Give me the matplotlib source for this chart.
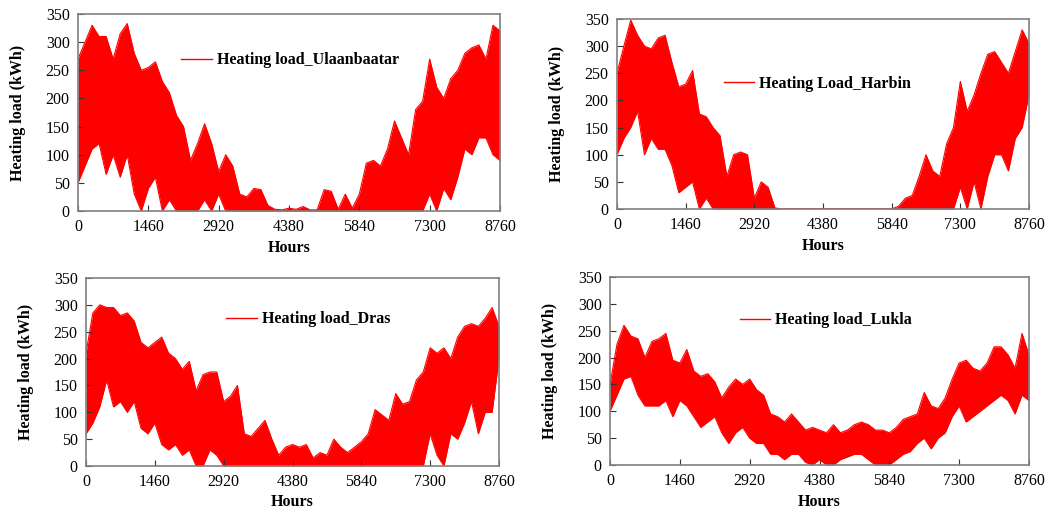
import numpy as np
import matplotlib
matplotlib.use("Agg")
from matplotlib import pyplot as plt
from matplotlib.lines import Line2D

plt.rcParams['font.family'] = ['Liberation Serif', 'DejaVu Serif']

# sample hours (every 146 h) and the upper / lower envelope of the hourly load
hours = np.arange(0, 8761, 146)

ulaan_up = [270, 300, 330, 310, 310, 270, 315, 333, 280, 250, 255, 265, 230, 210, 170, 150, 90, 120, 155, 120,
            70, 100, 80, 30, 25, 40, 38, 10, 3, 2, 5, 3, 8, 2, 2, 38, 35, 3, 30, 5,
            30, 85, 90, 80, 110, 160, 130, 100, 180, 195, 270, 220, 200, 235, 250, 280, 290, 295, 270, 330, 320]
ulaan_low = [50, 80, 110, 120, 65, 100, 60, 100, 30, 0, 40, 60, 0, 20, 0, 0, 0, 0, 20, 0,
             30, 0, 0, 0, 0, 0, 0, 0, 0, 0, 0, 0, 0, 0, 0, 0, 0, 0, 0, 0,
             0, 0, 0, 0, 0, 0, 0, 0, 0, 0, 30, 0, 40, 20, 60, 110, 100, 130, 130, 100, 90]

harbin_up = [250, 300, 348, 320, 300, 295, 315, 320, 270, 225, 230, 255, 175, 170, 150, 135, 60, 100, 105, 100,
             20, 50, 40, 2, 0, 0, 0, 0, 0, 0, 0, 0, 0, 0, 0, 0, 0, 0, 0, 0,
             0, 5, 20, 25, 60, 100, 70, 60, 120, 150, 235, 180, 210, 250, 285, 290, 270, 250, 290, 330, 305]
harbin_low = [100, 130, 150, 180, 100, 130, 110, 110, 80, 30, 40, 50, 0, 20, 0, 0, 0, 0, 0, 0,
              0, 0, 0, 0, 0, 0, 0, 0, 0, 0, 0, 0, 0, 0, 0, 0, 0, 0, 0, 0,
              0, 0, 0, 0, 0, 0, 0, 0, 0, 0, 40, 0, 50, 0, 60, 100, 100, 70, 130, 150, 210]

dras_up = [210, 285, 300, 295, 295, 280, 285, 270, 230, 220, 230, 240, 210, 200, 180, 195, 140, 170, 175, 175,
           120, 130, 150, 60, 55, 70, 85, 50, 20, 35, 40, 35, 40, 15, 25, 20, 50, 35, 25, 35,
           45, 60, 105, 95, 85, 135, 115, 120, 160, 175, 220, 210, 220, 200, 240, 260, 265, 260, 275, 295, 260]
dras_low = [60, 80, 110, 160, 110, 120, 100, 120, 70, 60, 80, 40, 30, 40, 20, 30, 0, 0, 30, 20,
            0, 0, 0, 0, 0, 0, 0, 0, 0, 0, 0, 0, 0, 0, 0, 0, 0, 0, 0, 0,
            0, 0, 0, 0, 0, 0, 0, 0, 0, 0, 60, 20, 0, 60, 50, 80, 120, 60, 100, 100, 200]

lukla_up = [150, 225, 260, 240, 235, 200, 230, 235, 245, 195, 190, 215, 175, 165, 170, 155, 125, 145, 160, 150,
            160, 140, 130, 95, 90, 80, 95, 80, 65, 70, 65, 60, 75, 60, 65, 75, 80, 75, 65, 65,
            60, 70, 85, 90, 95, 135, 110, 105, 125, 160, 190, 195, 180, 175, 190, 220, 220, 205, 180, 245, 205]
lukla_low = [100, 130, 160, 165, 130, 110, 110, 110, 120, 90, 120, 110, 90, 70, 80, 90, 60, 40, 60, 70,
             50, 40, 40, 20, 20, 10, 20, 20, 5, 0, 10, 0, 0, 10, 15, 20, 20, 10, 0, 0,
             0, 10, 20, 25, 40, 50, 30, 50, 60, 90, 110, 80, 90, 100, 110, 120, 130, 120, 95, 130, 120]

panels = [
    ("Heating load_Ulaanbaatar", ulaan_up, ulaan_low, (78, 500, 14, 211), (0.245, 0.765)),
    ("Heating Load_Harbin", harbin_up, harbin_low, (617, 1029, 19, 209), (0.26, 0.66)),
    ("Heating load_Dras", dras_up, dras_low, (86, 499, 278, 466), (0.34, 0.78)),
    ("Heating load_Lukla", lukla_up, lukla_low, (610, 1029, 277, 465), (0.31, 0.77)),
]

W, H = 1050, 518
fig = plt.figure(figsize=(W / 100, H / 100), dpi=100)

for name, up, low, (l, r, t, b), (lx, ly) in panels:
    ax = fig.add_axes([l / W, (H - b) / H, (r - l) / W, (b - t) / H])
    ax.fill_between(hours, low, up, color="#ff0000", lw=0)
    ax.plot(hours, up, color="#ff0000", lw=0.8)
    ax.plot(hours, low, color="#ff0000", lw=0.8)

    ax.set_xlim(0, 8760)
    ax.set_ylim(0, 350)
    ax.set_xticks(np.arange(0, 8761, 1460))
    ax.set_yticks(np.arange(0, 351, 50))
    ax.tick_params(direction="in", length=4, width=0.8, color="#333333",
                   labelsize=11.5, pad=6)
    for s in ax.spines.values():
        s.set_color("#808080")
        s.set_linewidth(1.2)

    ax.set_xlabel("Hours", fontweight="bold", fontsize=11.5, labelpad=3)
    ax.set_ylabel("Heating load (kWh)", fontweight="bold", fontsize=11.5, labelpad=14)

    h = Line2D([], [], color="#ff0000", lw=1)
    ax.legend([h], [name], loc="center left", bbox_to_anchor=(lx, ly), frameon=False,
              handlelength=1.9, handletextpad=0.3, borderaxespad=0, borderpad=0,
              prop={"weight": "bold", "size": 11.5})

fig.savefig("out.png", dpi=100)
